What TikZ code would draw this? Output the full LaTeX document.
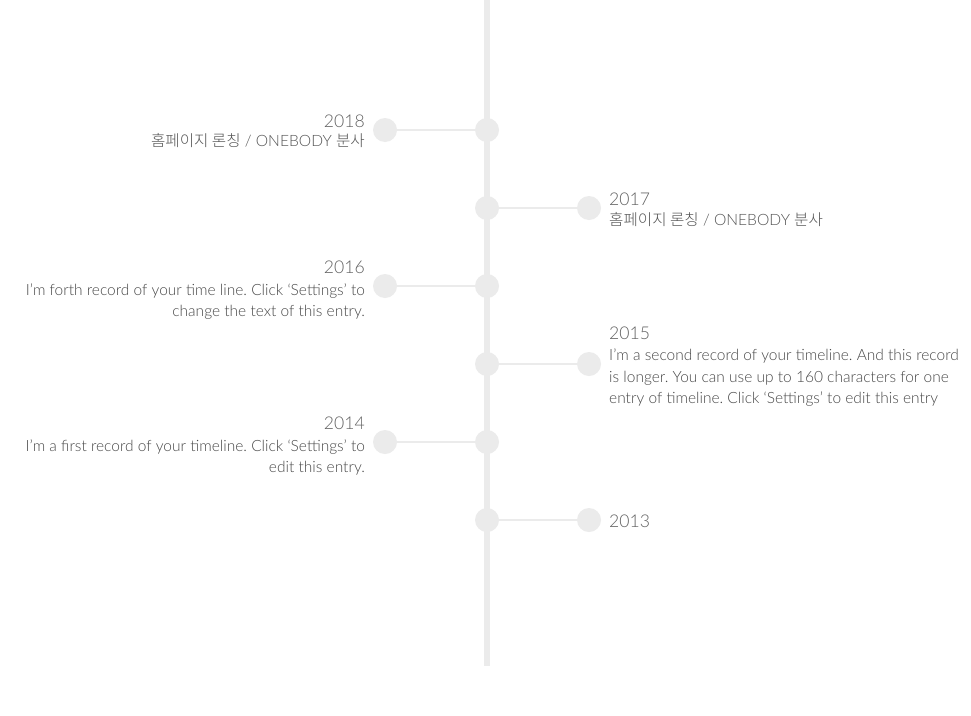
\documentclass[tikz,border=0pt]{standalone}
\usepackage{fontspec}
\setmainfont{Lato}[UprightFont=* Light]
\newfontfamily\kr{Noto Sans CJK KR}[UprightFont=* Light]
\frenchspacing
\definecolor{tl}{HTML}{EBEBEB}
\definecolor{yr}{HTML}{616161}
\definecolor{bd}{HTML}{484848}
\definecolor{krc}{HTML}{555555}
\begin{document}
\begin{tikzpicture}[x=1pt,y=-1pt,
  dot/.style={circle,fill=tl,minimum size=24pt,inner sep=0pt},
  link/.style={draw=tl,line width=2pt},
  yeartext/.style={inner sep=0pt,text=yr,font=\fontsize{17.6}{21}\selectfont},
  bodytext/.style={inner sep=0pt,text=bd,font=\fontsize{15.5}{21}\selectfont},
  krtext/.style={inner sep=0pt,text=krc,font=\fontsize{15.6}{21}\selectfont}]
\useasboundingbox[fill=white] (0,0) rectangle (971,715);
\coordinate (top) at (487,0);
\coordinate (bot) at (487,666);
\draw[tl,line width=6pt] (top) -- (bot);
% main dots
\node[dot] (m1) at (487,130) {};
\node[dot] (m2) at (487,208) {};
\node[dot] (m3) at (487,286) {};
\node[dot] (m4) at (487,364) {};
\node[dot] (m5) at (487,442) {};
\node[dot] (m6) at (487,520) {};
% side dots
\node[dot] (s1) at (385,130) {};
\node[dot] (s2) at (589,208) {};
\node[dot] (s3) at (385,286) {};
\node[dot] (s4) at (589,364) {};
\node[dot] (s5) at (385,442) {};
\node[dot] (s6) at (589,520) {};
\draw[link] (s1) -- (m1);
\draw[link] (m2) -- (s2);
\draw[link] (s3) -- (m3);
\draw[link] (m4) -- (s4);
\draw[link] (s5) -- (m5);
\draw[link] (m6) -- (s6);
% 2018
\node[yeartext,anchor=base east] (y1) at (365,127) {2018};
\node[krtext,anchor=base east] (b1a) at (365,146.5) {{\kr 홈페이지 론칭} / ONEBODY {\kr 분사}};
% 2017
\node[yeartext,anchor=base west] (y2) at (609,205) {2017};
\node[krtext,anchor=base west] (b2a) at (609,225.5) {{\kr 홈페이지 론칭} / ONEBODY {\kr 분사}};
% 2016
\node[yeartext,anchor=base east] (y3) at (365,273) {2016};
\node[bodytext,anchor=base east] (b3a) at (365,295) {I’m forth record of your time line. Click ‘Settings’ to};
\node[bodytext,anchor=base east] (b3b) at (365,316.5) {change the text of this entry.};
% 2015
\node[yeartext,anchor=base west] (y4) at (609,339) {2015};
\node[bodytext,anchor=base west] (b4a) at (609,360.5) {I’m a second record of your timeline. And this record};
\node[bodytext,anchor=base west] (b4b) at (609,382) {is longer. You can use up to 160 characters for one};
\node[bodytext,anchor=base west] (b4c) at (609,403.5) {entry of timeline. Click ‘Settings’ to edit this entry};
% 2014
\node[yeartext,anchor=base east] (y5) at (365,429) {2014};
\node[bodytext,anchor=base east] (b5a) at (365,451) {I’m a first record of your timeline. Click ‘Settings’ to};
\node[bodytext,anchor=base east] (b5b) at (365,472.5) {edit this entry.};
% 2013
\node[yeartext,anchor=base west] (y6) at (609,527.5) {2013};
\end{tikzpicture}
\end{document}
